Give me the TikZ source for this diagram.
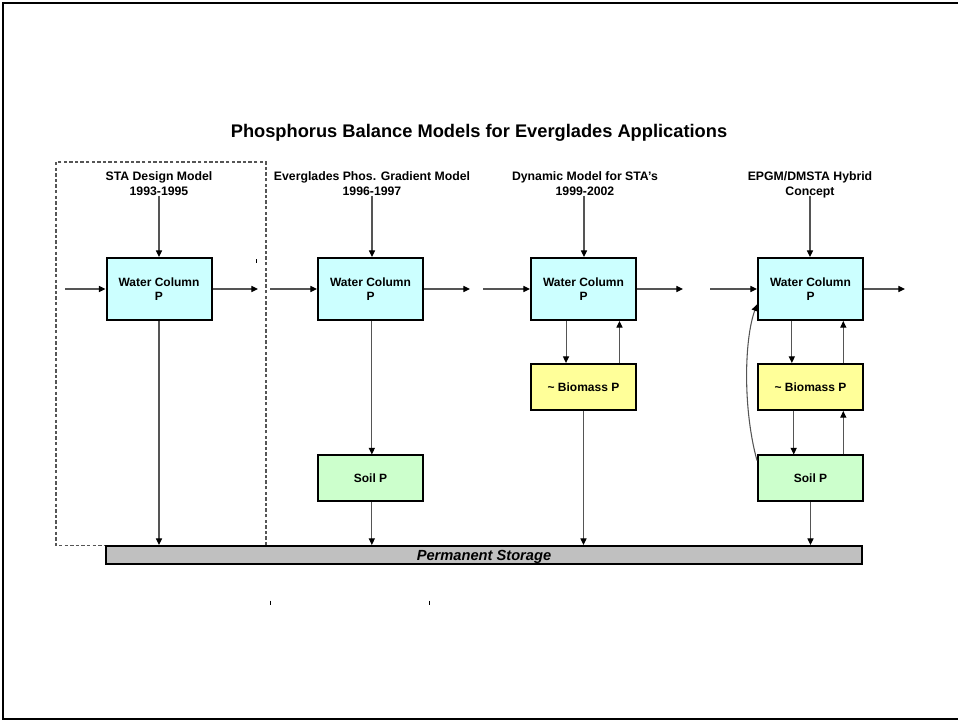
\documentclass[tikz,border=0pt]{standalone}
\usepackage{fontspec}
\setmainfont{Liberation Sans}
\usetikzlibrary{arrows.meta,calc}
\begin{document}
\begin{tikzpicture}[x=0.75pt,y=-0.75pt,
  box/.style={draw=black,line width=1.5pt,minimum width=78.75pt,inner sep=0pt,align=center,font=\bfseries\fontsize{9}{11}\selectfont},
  wcbox/.style={box,fill=wcfill,minimum height=46.5pt},
  biobox/.style={box,fill=biofill,minimum height=34.5pt},
  soilbox/.style={box,fill=soilfill,minimum height=34.5pt},
  head/.style={align=center,inner sep=0pt,anchor=north,font=\bfseries\fontsize{9.2}{11.2}\selectfont},
  arr/.style={draw=linegray,line width=0.8pt,-{Triangle[length=5pt,width=4.6pt,black]}},
  tick/.style={draw=black,line width=0.8pt}]
\definecolor{wcfill}{HTML}{CCFFFF}
\definecolor{biofill}{HTML}{FFFF99}
\definecolor{soilfill}{HTML}{CCFFCC}
\definecolor{bargray}{HTML}{C0C0C0}
\definecolor{linegray}{HTML}{555555}
\useasboundingbox (0,0) rectangle (958,720);
% outer frame
\draw[line width=1.6pt] (3,720) -- (3,3) -- (958,3);
\draw[line width=1.6pt] (3,718.8) -- (958,718.8);
% title
\node[font=\bfseries\fontsize{13.7}{16}\selectfont,inner sep=0pt] (title) at (479,133) {Phosphorus Balance Models for Everglades Applications};
% dashed frame
\draw[draw=linegray,line width=0.8pt,dash pattern=on 2.6pt off 1.6pt] (56,162) rectangle (266,545.5);
% headings
\node[head] (h1) at (159,171.5) {STA Design Model\\1993-1995};
\node[head] (h2) at (372,171.5) {Everglades Phos. Gradient Model\\1996-1997};
\node[head] (h3) at (585,171.5) {Dynamic Model for STA's\\1999-2002};
\node[head] (h4) at (810,171.5) {EPGM/DMSTA Hybrid\\Concept};
% storage bar
\node[draw=black,line width=1.5pt,fill=bargray,minimum width=567pt,minimum height=13.5pt,inner sep=0pt] (bar) at (484,555) {};
\node[inner sep=0pt,font=\bfseries\itshape\fontsize{11}{12}\selectfont] (barlabel) at (484,556.5) {Permanent Storage};
% boxes
\node[wcbox] (wc1) at (159,289) {Water Column\\P};
\node[wcbox] (wc2) at (370.5,289) {Water Column\\P};
\node[wcbox] (wc3) at (583.5,289) {Water Column\\P};
\node[wcbox] (wc4) at (810.5,289) {Water Column\\P};
\node[biobox] (bio3) at (583.5,387) {\textasciitilde{} Biomass P};
\node[biobox] (bio4) at (810.5,387) {\textasciitilde{} Biomass P};
\node[soilbox] (soil2) at (370.5,478.5) {Soil P};
\node[soilbox] (soil4) at (810.5,478.5) {Soil P};
% free ends
\coordinate (t1) at (159,196);
\coordinate (t2) at (372,196);
\coordinate (t3) at (584,196);
\coordinate (t4) at (810,196);
\coordinate (i1) at (65,289);
\coordinate (o1) at (258,289);
\coordinate (i2) at (270,289);
\coordinate (o2) at (470,289);
\coordinate (i3) at (483,289);
\coordinate (o3) at (683,289);
\coordinate (i4) at (710,289);
\coordinate (o4) at (905,289);
% input arrows from top
\draw[arr] (t1) -- (t1 |- wc1.north);
\draw[arr] (t2) -- (t2 |- wc2.north);
\draw[arr] (t3) -- (t3 |- wc3.north);
\draw[arr] (t4) -- (t4 |- wc4.north);
% horizontal flows
\draw[arr] (i1) -- (wc1.west);
\draw[arr] (wc1.east) -- (o1);
\draw[arr] (i2) -- (wc2.west);
\draw[arr] (wc2.east) -- (o2);
\draw[arr] (i3) -- (wc3.west);
\draw[arr] (wc3.east) -- (o3);
\draw[arr] (i4) -- (wc4.west);
\draw[arr] (wc4.east) -- (o4);
% column 1
\draw[arr] (wc1.south) -- (wc1.south |- bar.north);
% column 2
\draw[arr] ([xshift=1pt]wc2.south) -- ([xshift=1pt]soil2.north);
\draw[arr] ([xshift=1pt]soil2.south) -- ([xshift=1pt]soil2.south |- bar.north);
% column 3
\draw[arr] ([xshift=-13.1pt]wc3.south) -- ([xshift=-13.1pt]bio3.north);
\draw[arr] ([xshift=27pt]bio3.north) -- ([xshift=27pt]wc3.south);
\draw[arr] (bio3.south) -- (bio3.south |- bar.north);
% column 4
\draw[arr] ([xshift=-14pt]wc4.south) -- ([xshift=-14pt]bio4.north);
\draw[arr] ([xshift=24.6pt]bio4.north) -- ([xshift=24.6pt]wc4.south);
\draw[arr] ([xshift=-12.6pt]bio4.south) -- ([xshift=-12.6pt]soil4.north);
\draw[arr] ([xshift=24.6pt]soil4.north) -- ([xshift=24.6pt]bio4.south);
\draw[arr] (soil4.south) -- (soil4.south |- bar.north);
\draw[arr] ([yshift=-4.5pt]soil4.north west) .. controls (743,410) and (744,340) .. ([yshift=12.5pt]wc4.south west);
% small marks
\draw[tick] (256.5,259.5) -- (256.5,263.5);
\draw[tick] (270.3,600.5) -- (270.3,604.8);
\draw[tick] (429.5,600.5) -- (429.5,604.8);
\end{tikzpicture}
\end{document}
